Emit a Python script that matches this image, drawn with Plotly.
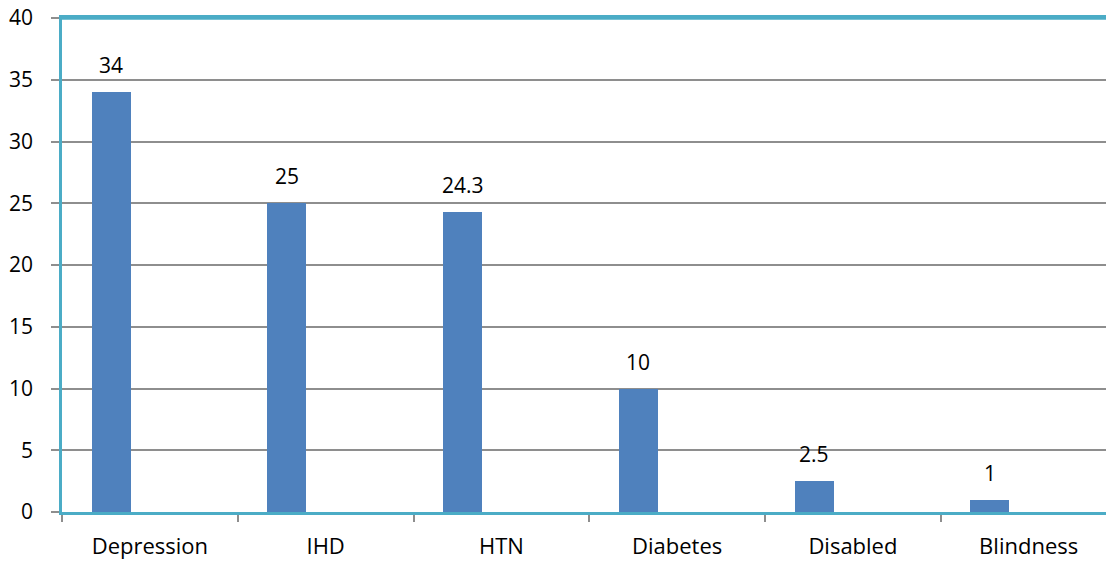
import plotly.graph_objects as go

categories = ["Depression", "IHD", "HTN", "Diabetes", "Disabled", "Blindness"]
values = [34, 25, 24.3, 10, 2.5, 1]
labels = ["34", "25", "24.3", "10", "2.5", "1"]
y_ticks = [0, 5, 10, 15, 20, 25, 30, 35, 40]

BAR = "#4F81BD"
TEAL = "#4BACC6"
GRID = "#8E8E8E"
FONT = "Open Sans"
BAR_OFFSET = -0.332
BAR_WIDTH = 0.222

fig = go.Figure()
fig.add_trace(go.Bar(
    x=categories, y=values,
    marker=dict(color=BAR, line=dict(width=0)),
    offset=BAR_OFFSET, width=BAR_WIDTH, showlegend=False,
))

for i, (v, t) in enumerate(zip(values, labels)):
    fig.add_annotation(x=i + BAR_OFFSET + BAR_WIDTH / 2, y=v, text=t,
                       showarrow=False, yanchor="middle", yshift=27,
                       font=dict(family=FONT, size=21, color="#000"))

fig.update_layout(
    width=1106, height=561,
    margin=dict(l=62, r=0, t=18, b=49),
    paper_bgcolor="white", plot_bgcolor="white",
    bargap=0,
    font=dict(family=FONT, size=21, color="#000"),
)
fig.update_xaxes(
    type="category", categoryorder="array", categoryarray=categories,
    range=[-0.5, 5.44], tickfont=dict(size=22),
    showgrid=False, showline=True, linecolor=TEAL, linewidth=2.5, mirror=True,
    ticks="outside", tickson="boundaries", ticklen=7, tickcolor=GRID, tickwidth=1.5,
    ticklabelstandoff=13, zeroline=False,
)
fig.update_yaxes(
    range=[0, 40], tickvals=y_ticks,
    showgrid=True, gridcolor=GRID, gridwidth=1.5,
    showline=True, linecolor=TEAL, linewidth=2.5,
    ticks="outside", ticklen=8, tickcolor=GRID, tickwidth=1.5,
    ticklabelstandoff=14, zeroline=False,
)
fig.add_shape(type="line", xref="paper", yref="y", x0=0, x1=1, y0=40, y1=40,
              line=dict(color=TEAL, width=3.5))

fig.write_html("out.html")
